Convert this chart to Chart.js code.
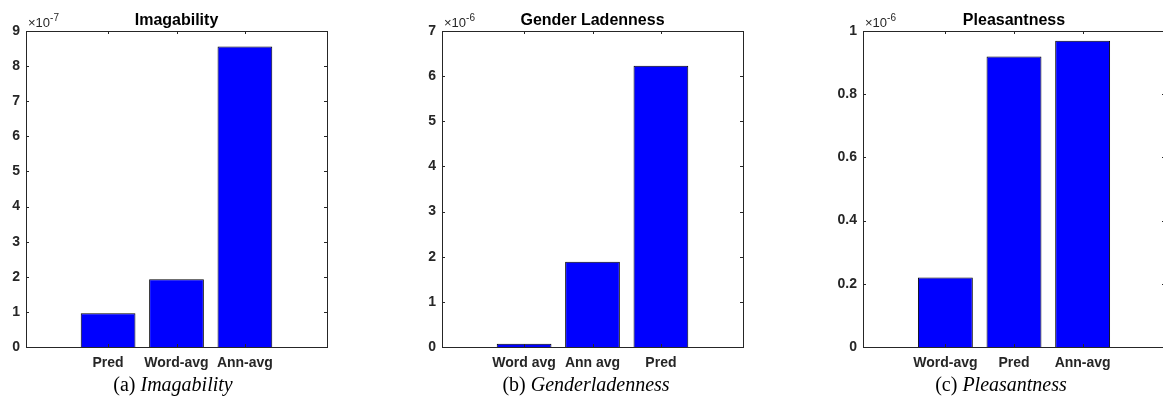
<!DOCTYPE html>
<html>
<head>
<meta charset="UTF-8">
<title>Imagability / Gender Ladenness / Pleasantness</title>
<style>
  html, body { margin: 0; padding: 0; background: #fff; width: 1163px; height: 412px; overflow: hidden; }
  .panel { position: absolute; top: 0; }
  .cap { position: absolute; top: 372px; width: 300px; text-align: center;
         font-family: "Liberation Serif", "Times New Roman", serif; font-size: 20px; line-height: 24px; color: #000; }
  .cap i { font-style: italic; }
</style>
</head>
<body>
<div class="panel" style="left:-14px"><canvas id="c1" width="361" height="387"></canvas></div>
<div class="panel" style="left:402px"><canvas id="c2" width="361" height="387"></canvas></div>
<div class="panel" style="left:823px"><canvas id="c3" width="362" height="387"></canvas></div>
<div class="cap" style="left:23px">(a) <i>Imagability</i></div>
<div class="cap" style="left:436px">(b) <i>Genderladenness</i></div>
<div class="cap" style="left:851px">(c) <i>Pleasantness</i></div>

<script src="https://cdn.jsdelivr.net/npm/chart.js"></script>
<script>
// data
const imagCats = ['Pred', 'Word-avg', 'Ann-avg'];
const imagVals = [0.96e-7, 1.93e-7, 8.56e-7];
const imagTicks = [0, 1, 2, 3, 4, 5, 6, 7, 8, 9];
const imagExp = -7;

const genderCats = ['Word avg', 'Ann avg', 'Pred'];
const genderVals = [0.07e-6, 1.89e-6, 6.23e-6];
const genderTicks = [0, 1, 2, 3, 4, 5, 6, 7];
const genderExp = -6;

const pleasCats = ['Word-avg', 'Pred', 'Ann-avg'];
const pleasVals = [0.22e-6, 0.919e-6, 0.969e-6];
const pleasTicks = [0, 0.2, 0.4, 0.6, 0.8, 1];
const pleasExp = -6;

const AX = '#262626';
const FONT = '"Liberation Sans", Arial, sans-serif';

// matlab-ish box: frame, inward ticks, title and the x10^n label
function boxPlugin(title, exp) {
  return {
    id: 'mbox',
    afterDraw(chart) {
      const ctx = chart.ctx, a = chart.chartArea;
      const xs = chart.scales.x, ys = chart.scales.y;
      ctx.save();
      ctx.strokeStyle = AX;
      ctx.lineWidth = 1;
      ctx.strokeRect(Math.round(a.left) + 0.5, Math.round(a.top) + 0.5,
                     Math.round(a.right - a.left), Math.round(a.bottom - a.top));
      ctx.beginPath();
      ys.ticks.forEach(t => {
        const y = Math.round(ys.getPixelForValue(t.value)) + 0.5;
        ctx.moveTo(a.left, y); ctx.lineTo(a.left + 3, y);
        ctx.moveTo(a.right, y); ctx.lineTo(a.right - 3, y);
      });
      xs.ticks.forEach(t => {
        const x = Math.round(xs.getPixelForValue(t.value)) + 0.5;
        ctx.moveTo(x, a.bottom); ctx.lineTo(x, a.bottom - 3);
        ctx.moveTo(x, a.top); ctx.lineTo(x, a.top + 3);
      });
      ctx.stroke();

      ctx.fillStyle = '#000';
      ctx.font = 'bold 16px ' + FONT;
      ctx.textAlign = 'center';
      ctx.textBaseline = 'alphabetic';
      ctx.fillText(title, (a.left + a.right) / 2, 25);

      ctx.fillStyle = AX;
      ctx.textAlign = 'left';
      ctx.font = '13px ' + FONT;
      const base = '\u00d710';
      ctx.fillText(base, a.left + 2, 27);
      const w = ctx.measureText(base).width;
      ctx.font = '10px ' + FONT;
      ctx.fillText(String(exp), a.left + 2 + w, 21);
      ctx.restore();
    }
  };
}

function makePanel(id, title, cats, vals, ticks, exp) {
  const unit = Math.pow(10, exp);
  new Chart(document.getElementById(id), {
    type: 'bar',
    data: {
      datasets: [{
        data: vals.map((v, i) => ({ x: i + 1, y: v })),
        backgroundColor: '#0000ff',
        borderColor: '#000',
        borderWidth: 1,
        barPercentage: 0.8,
        categoryPercentage: 1
      }]
    },
    options: {
      responsive: false,
      animation: false,
      devicePixelRatio: 1,
      layout: { padding: { left: 0, right: 20, top: 31, bottom: 0 } },
      plugins: { legend: { display: false }, tooltip: { enabled: false }, title: { display: false } },
      scales: {
        x: {
          type: 'linear', min: -0.2, max: 4.2, offset: false,
          grid: { display: false, drawTicks: false },
          border: { display: false },
          afterBuildTicks: s => { s.ticks = cats.map((c, i) => ({ value: i + 1 })); },
          afterFit: s => { s.height = 40; },
          ticks: {
            autoSkip: false, maxRotation: 0, padding: 8, color: AX,
            font: { family: FONT, size: 14, weight: 'bold' },
            callback: v => cats[v - 1]
          }
        },
        y: {
          min: 0, max: ticks[ticks.length - 1] * unit,
          grid: { display: false, drawTicks: false },
          border: { display: false },
          afterBuildTicks: s => { s.ticks = ticks.map(t => ({ value: t * unit })); },
          afterFit: s => { s.width = 40; },
          ticks: {
            autoSkip: false, padding: 6, color: AX,
            font: { family: FONT, size: 14, weight: 'bold' },
            callback: (v, i) => String(ticks[i])
          }
        }
      }
    },
    plugins: [boxPlugin(title, exp)]
  });
}

makePanel('c1', 'Imagability', imagCats, imagVals, imagTicks, imagExp);
makePanel('c2', 'Gender Ladenness', genderCats, genderVals, genderTicks, genderExp);
makePanel('c3', 'Pleasantness', pleasCats, pleasVals, pleasTicks, pleasExp);
</script>
</body>
</html>
